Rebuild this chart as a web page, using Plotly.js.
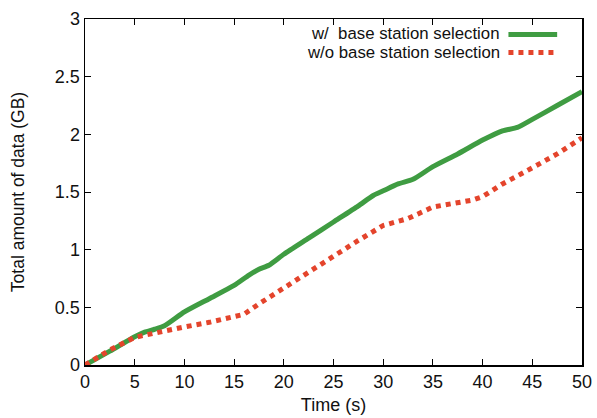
<!DOCTYPE html>
<html><head><meta charset="utf-8">
<script src="https://cdn.plot.ly/plotly-3.0.1.min.js"></script>
<style>html,body{margin:0;padding:0;background:#fff}#c{width:597px;height:418px}</style>
</head><body><div id="c"></div>
<script>
const timeWith = [0, 2.5, 5, 6, 7, 8, 10, 12.5, 15, 16.5, 17.5, 18.5, 20, 22.5, 25, 27.5, 29, 30, 31.5, 33, 35, 37.5, 40, 42, 43.5, 45, 47.5, 50];
const dataWith = [0, 0.12, 0.245, 0.285, 0.31, 0.34, 0.46, 0.575, 0.69, 0.78, 0.83, 0.865, 0.96, 1.10, 1.24, 1.38, 1.47, 1.51, 1.57, 1.61, 1.72, 1.83, 1.95, 2.03, 2.06, 2.13, 2.25, 2.37];
const timeWithout = [0, 2.5, 5, 7.5, 10, 12.5, 15, 16, 17.5, 20, 22.5, 25, 27.5, 30, 32.5, 35, 39, 40, 42, 45, 47.5, 50];
const dataWithout = [0, 0.13, 0.24, 0.29, 0.33, 0.37, 0.42, 0.44, 0.53, 0.67, 0.81, 0.95, 1.08, 1.21, 1.27, 1.37, 1.43, 1.46, 1.57, 1.71, 1.83, 1.97];
const seriesNames = ['w/  base station selection', 'w/o base station selection'];
const xTicks = [0, 5, 10, 15, 20, 25, 30, 35, 40, 45, 50];
const yTicks = [0, 0.5, 1, 1.5, 2, 2.5, 3];

const green = '#3f9c42', red = '#e4442c';
const fam = 'Liberation Sans, Arial, sans-serif';

const traces = [
  {x: timeWith, y: dataWith, mode: 'lines', name: seriesNames[0], line: {color: green, width: 5, shape: 'spline', smoothing: 0.6}, showlegend: false},
  {x: timeWithout, y: dataWithout, mode: 'lines', name: seriesNames[1], line: {color: red, width: 5, dash: 'dot'}, showlegend: false}
];

const axisCommon = {showgrid: false, zeroline: false, showline: true, linecolor: '#000', linewidth: 1.5,
  mirror: 'allticks', ticks: 'inside', ticklen: 6, tickcolor: '#000', tickwidth: 1, tickfont: {family: fam, size: 18, color: '#111'}};

const layout = {
  width: 597, height: 418,
  margin: {l: 85, r: 15, t: 19, b: 53},
  paper_bgcolor: '#fff', plot_bgcolor: '#fff',
  font: {family: fam, size: 17, color: '#111'},
  xaxis: Object.assign({}, axisCommon, {range: [0, 50], tickvals: xTicks, ticktext: xTicks.map(String),
    title: {text: 'Time (s)', font: {family: fam, size: 18, color: '#111'}, standoff: 7}}),
  yaxis: Object.assign({}, axisCommon, {range: [0, 3], tickvals: yTicks, ticktext: yTicks.map(String),
    title: {text: 'Total amount of data (GB)', font: {family: fam, size: 17.5, color: '#111'}, standoff: 25}}),
  annotations: [
    {xref: 'paper', yref: 'paper', x: 0.837, y: 0.958, xanchor: 'right', yanchor: 'middle', text: seriesNames[0], showarrow: false, borderpad: 0, font: {family: fam, size: 16.8, color: '#111'}},
    {xref: 'paper', yref: 'paper', x: 0.837, y: 0.903, xanchor: 'right', yanchor: 'middle', text: seriesNames[1], showarrow: false, borderpad: 0, font: {family: fam, size: 16.8, color: '#111'}}
  ],
  shapes: [
    {type: 'line', xref: 'paper', yref: 'paper', x0: 0.852, x1: 0.95, y0: 0.955, y1: 0.955, line: {color: green, width: 5}},
    {type: 'line', xref: 'paper', yref: 'paper', x0: 0.852, x1: 0.95, y0: 0.903, y1: 0.903, line: {color: red, width: 5, dash: 'dot'}}
  ]
};
Plotly.newPlot('c', traces, layout, {staticPlot: true, displayModeBar: false});
</script></body></html>
